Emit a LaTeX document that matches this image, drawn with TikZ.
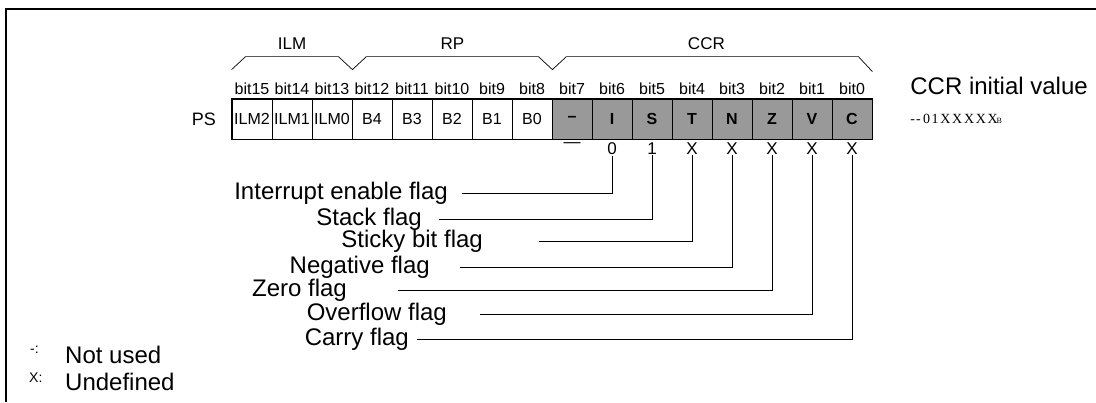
\documentclass[tikz,border=0pt]{standalone}
\usepackage{fontspec}
\setmainfont{Liberation Sans}
\newfontfamily\valfont[LetterSpace=12]{Liberation Serif}
\usetikzlibrary{positioning,calc}

\begin{document}
\begin{tikzpicture}[
  x=1pt, y=-1pt,
  frm/.style   = {line width=1.6pt},
  cell/.style  = {draw, line width=0.8pt, minimum width=40pt, minimum height=40pt,
                  inner sep=0pt, font=\fontsize{16}{16}\selectfont},
  ccr/.style   = {cell, fill=black!40, font=\fontsize{16}{16}\selectfont\bfseries},
  bitlbl/.style= {font=\fontsize{16}{16}\selectfont, inner sep=1pt},
  vlbl/.style  = {font=\fontsize{17}{17}\selectfont, inner sep=1pt},
  brc/.style   = {line width=0.7pt},
  blbl/.style  = {font=\fontsize{17}{17}\selectfont},
  flag/.style  = {font=\fontsize{24}{24}\selectfont, anchor=east, inner sep=0pt},
  lead/.style  = {line width=0.8pt},
  lbl/.style   = {font=\fontsize{24}{24}\selectfont, inner sep=0pt},
  key/.style   = {font=\fontsize{14}{14}\selectfont, inner sep=0pt},
]
\useasboundingbox (0,0) rectangle (1096,402);

%% ---- frame ---------------------------------------------------------------
\draw[frm] (6,402) -- (6,9) -- (1096,9);

%% ---- register PS ---------------------------------------------------------
\node[lbl, font=\fontsize{18}{18}\selectfont, anchor=east] (ps) at (216,119) {PS};
\foreach \n [count=\i from 0] in {ILM2,ILM1,ILM0,B4,B3,B2,B1,B0}
  \node[cell] (c\i) at (252+\i*40,119) {\n};
\foreach \n [count=\i from 8] in {--,I,S,T,N,Z,V,C}
  \node[ccr] (c\i) at (252+\i*40,119) {\n};
\draw[line width=1.8pt] (c0.north west) rectangle (c15.south east);

\foreach \i in {0,...,15}{
  \pgfmathtruncatemacro\k{15-\i}
  \node[bitlbl, above=3pt of c\i] (bit\k) {bit\k};
}

%% ---- braces --------------------------------------------------------------
\draw[brc] ($(c0.north west)+(0,-29)$) -- ++(14,-13) -- ($(c2.north east)+(-14,-42)$)
  -- ($(c2.north east)+(0,-29)$) -- ++(14,-13) -- ($(c7.north east)+(-14,-42)$)
  -- ($(c7.north east)+(0,-29)$) -- ++(14,-13) -- ($(c15.north east)+(-14,-42)$)
  -- ($(c15.north east)+(0,-27)$);
\node[blbl] (ilm)  at ($(c1.north)+(0,-55)$) {ILM};
\node[blbl] (rp)   at ($(c2.north east)!0.5!(c7.north east)+(0,-55)$) {RP};
\node[blbl] (ccrl) at ($(c11.north east)+(-6,-55)$) {CCR};

%% ---- initial values ------------------------------------------------------
\foreach \v [count=\i from 8] in {---,0,1,X,X,X,X,X}
  \node[vlbl, below=2pt of c\i] (v\i) {\v};

\node[lbl, anchor=east] (ini) at (1088,86) {CCR initial value};
\node[anchor=west, font=\valfont\fontsize{14}{14}\selectfont, inner sep=0pt] (inival)
  at (ini.west |- c15) {-\kern1pt-\,01XXXXX\kern-1pt{\fontsize{8}{8}\selectfont B}};

%% ---- flags ---------------------------------------------------------------
\node[flag] (fi) at (448,193) {Interrupt enable flag};
\node[flag] (fs) at (422,219) {Stack flag};
\node[flag] (ft) at (483,241) {Sticky bit flag};
\node[flag] (fn) at (430,267) {Negative flag};
\node[flag] (fz) at (347,290) {Zero flag};
\node[flag] (fv) at (447,314) {Overflow flag};
\node[flag] (fc) at (409,339) {Carry flag};
\foreach \s/\i/\g in {fi/9/14,fs/10/17,ft/11/56,fn/12/30,fz/13/51,fv/14/33,fc/15/8}
  \draw[lead, shorten >=\g pt] (v\i.south) |- (\s.east);

%% ---- legend --------------------------------------------------------------
\node[lbl, anchor=west] (nu) at (65,355) {Not used};
\node[lbl, anchor=west] (ud) at (65,382) {Undefined};
\node[key, anchor=north west] (k1) at (nu.north west -| 30,0) {-:};
\node[key, anchor=north west] (k2) at (ud.north west -| 29,0) {X:};

\end{tikzpicture}
\end{document}
